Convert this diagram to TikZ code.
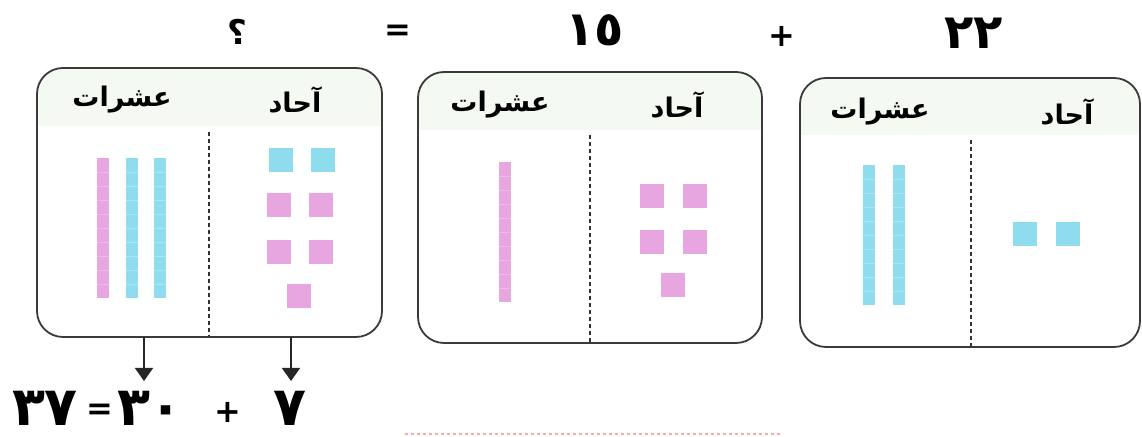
\documentclass[tikz,border=0pt]{standalone}
\usepackage{fontspec}
\newfontfamily\arabicfont[Script=Arabic]{DejaVu Sans}
\TeXXeTstate=1
\usetikzlibrary{arrows.meta}
\definecolor{pinkb}{HTML}{E7A6E0}
\definecolor{cyanb}{HTML}{8FDCEE}
\definecolor{hdr}{HTML}{F4FAF1}
\definecolor{edge}{HTML}{3A3A3A}
\newcommand\rodv[3]{%
  \fill[#3] (#1,#2) rectangle ++(12,140);
  \foreach \k in {1,...,9} \draw[white, opacity=0.25, line width=0.3pt] (#1,#2+14*\k) -- ++(12,0);
}
\newcommand\unitsq[3]{\fill[#3] (#1,#2) rectangle ++(24,24);}
\begin{document}
\begin{tikzpicture}[x=0.5pt,y=-0.5pt,
  panel/.style={draw=edge, line width=0.9pt, rounded corners=13pt},
  divider/.style={draw=black!80, line width=0.7pt, dash pattern=on 2pt off 1.5pt},
  hdrtext/.style={font=\arabicfont\bfseries\fontsize{13.5}{16}\selectfont, inner sep=0pt},
  topnum/.style={font=\arabicfont\bfseries\fontsize{24}{28}\selectfont, inner sep=0pt},
  qmark/.style={font=\arabicfont\bfseries\fontsize{17}{20}\selectfont, inner sep=0pt},
  botnum/.style={font=\arabicfont\bfseries\fontsize{27}{30}\selectfont, inner sep=0pt},
  opsym/.style={font=\arabicfont\bfseries\fontsize{16}{18}\selectfont, inner sep=0pt},
  arr/.style={draw=black!85, line width=0.8pt, -{Triangle[width=9pt,length=6.5pt]}},
]
\useasboundingbox (0,0) rectangle (1142,437);
\fill[white] (0,0) rectangle (1142,437);

% header tints
\begin{scope}
  \clip[rounded corners=13pt] (37,68) rectangle (382,337);
  \fill[hdr] (37,68) rectangle (382,126);
\end{scope}
\begin{scope}
  \clip[rounded corners=13pt] (418,72) rectangle (762,343);
  \fill[hdr] (418,72) rectangle (762,130);
\end{scope}
\begin{scope}
  \clip[rounded corners=13pt] (800,78) rectangle (1140,347);
  \fill[hdr] (800,78) rectangle (1140,135);
\end{scope}

% panels
\draw[panel] (37,68) rectangle (382,337);
\draw[panel] (418,72) rectangle (762,343);
\draw[panel] (800,78) rectangle (1140,347);

% dividers
\coordinate (d1t) at (209,132); \coordinate (d1b) at (209,337);
\coordinate (d2t) at (590,135); \coordinate (d2b) at (590,343);
\coordinate (d3t) at (971,140); \coordinate (d3b) at (971,347);
\draw[divider] (d1t) -- (d1b);
\draw[divider] (d2t) -- (d2b);
\draw[divider] (d3t) -- (d3b);

% headers
\node[hdrtext] (h1t) at (122,100) {\beginR عشرات\endR};
\node[hdrtext] (h1o) at (295,100) {\beginR آحاد\endR};
\node[hdrtext] (h2t) at (500,105) {\beginR عشرات\endR};
\node[hdrtext] (h2o) at (677,105) {\beginR آحاد\endR};
\node[hdrtext] (h3t) at (880,112) {\beginR عشرات\endR};
\node[hdrtext] (h3o) at (1067,112) {\beginR آحاد\endR};

% panel 1 blocks
\rodv{97}{158}{pinkb}
\rodv{126}{158}{cyanb}
\rodv{154}{158}{cyanb}
\unitsq{269}{148}{cyanb}
\unitsq{311}{148}{cyanb}
\unitsq{267}{193}{pinkb}
\unitsq{309}{193}{pinkb}
\unitsq{267}{240}{pinkb}
\unitsq{309}{240}{pinkb}
\unitsq{287}{284}{pinkb}

% panel 2 blocks
\rodv{499}{162}{pinkb}
\unitsq{640}{184}{pinkb}
\unitsq{683}{184}{pinkb}
\unitsq{640}{230}{pinkb}
\unitsq{683}{230}{pinkb}
\unitsq{661}{273}{pinkb}

% panel 3 blocks
\rodv{863}{165}{cyanb}
\rodv{893}{165}{cyanb}
\unitsq{1013}{222}{cyanb}
\unitsq{1056}{222}{cyanb}

% top equation
\node[qmark] (q) at (237,32) {؟};
\node[opsym] (eq1) at (398,33) {=};
\node[topnum] (n15) at (595,30) {١٥};
\node[opsym] (pl1) at (782,36) {+};
\node[topnum] (n22) at (974,33) {٢٢};

% bottom equation
\node[botnum] (n37) at (45,408) {٣٧};
\node[opsym] (eq2) at (100,412) {=};
\node[botnum] (n30) at (150,408) {٣٠};
\node[opsym] (pl2) at (228,412) {+};
\node[botnum] (n7) at (290,408) {٧};

% arrows
\coordinate (a1s) at (144,337); \coordinate (a1e) at (144,381);
\coordinate (a2s) at (291,337); \coordinate (a2e) at (291,381);
\draw[arr] (a1s) -- (a1e);
\draw[arr] (a2s) -- (a2e);

% faint red dotted trace at the bottom
\coordinate (r1) at (405,434); \coordinate (r2) at (780,434);
\draw[red!35, line width=0.8pt, dash pattern=on 1.5pt off 1.5pt] (r1) -- (r2);
\end{tikzpicture}
\end{document}
